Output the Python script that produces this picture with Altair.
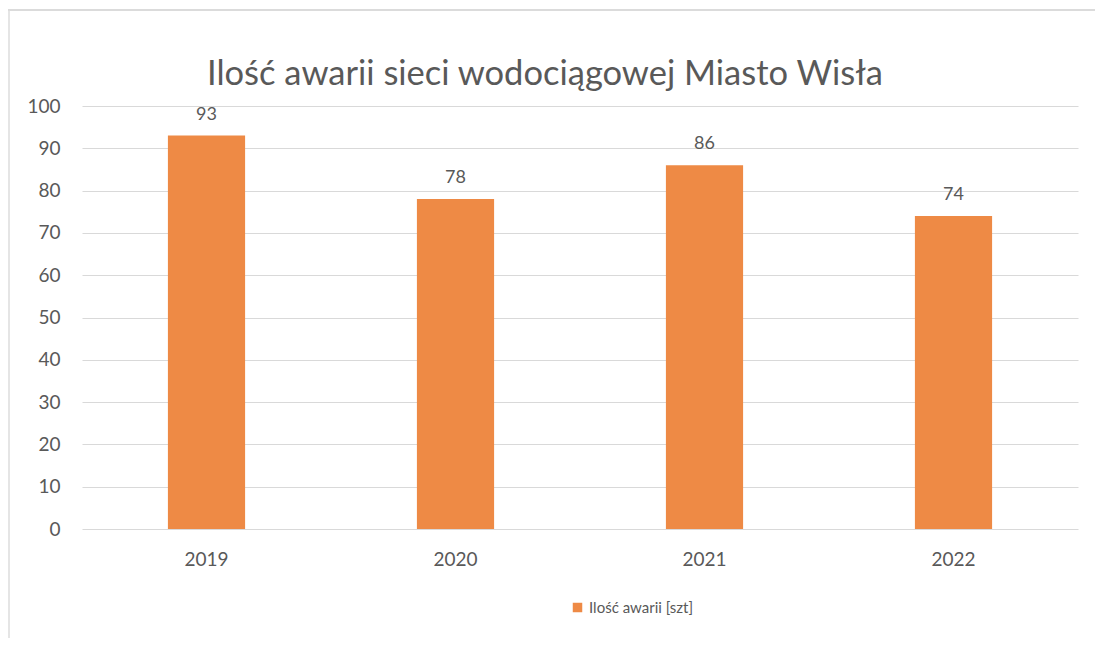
import altair as alt
import pandas as pd

years = ["2019", "2020", "2021", "2022"]
values = [93, 78, 86, 74]
series = "Ilość awarii [szt]"
title = "Ilość awarii sieci wodociągowej Miasto Wisła"

df = pd.DataFrame({"rok": years, "wartosc": values, "seria": [series] * 4})

FONT = "Lato"
GREY = "#595959"
ORANGE = "#EE8A45"

base = alt.Chart(df)

bars = base.mark_bar(color=ORANGE).encode(
    x=alt.X("rok:N", sort=years,
            scale=alt.Scale(paddingInner=0.69, paddingOuter=0.345),
            axis=alt.Axis(title=None, labelAngle=0, labelFontSize=19, labelColor=GREY,
                          labelFont=FONT, ticks=False, domain=False, grid=False,
                          labelPadding=21)),
    y=alt.Y("wartosc:Q", scale=alt.Scale(domain=[0, 100]),
            axis=alt.Axis(title=None, values=list(range(0, 101, 10)), labelFontSize=19,
                          labelColor=GREY, labelFont=FONT, ticks=False, domain=False,
                          labelPadding=22, gridColor="#d9d9d9", gridWidth=1)),
    color=alt.Color("seria:N", scale=alt.Scale(range=[ORANGE]),
                    legend=alt.Legend(title=None, orient="none", legendX=488, legendY=494,
                                      symbolType="square", symbolSize=90,
                                      labelFontSize=15, labelColor=GREY, labelFont=FONT,
                                      symbolStrokeWidth=0)),
)

labels = base.mark_text(dy=-21, fontSize=18, color=GREY, font=FONT).encode(
    x=alt.X("rok:N", sort=years),
    y="wartosc:Q",
    text="wartosc:Q",
)

one = pd.DataFrame({"t": [title]})
title_mark = alt.Chart(one).mark_text(fontSize=34.5, font=FONT, color=GREY, align="center",
                                      baseline="alphabetic").encode(
    x=alt.value(463), y=alt.value(-21), text="t:N"
)

frame_top = alt.Chart(pd.DataFrame({"a": [0]})).mark_rule(color="#cfcfcf", strokeWidth=1.5).encode(
    x=alt.value(-74), x2=alt.value(1090), y=alt.value(-96)
)
frame_left = alt.Chart(pd.DataFrame({"a": [0]})).mark_rule(color="#dddddd", strokeWidth=1.5).encode(
    x=alt.value(-73), y=alt.value(-96), y2=alt.value(540)
)

chart = alt.layer(bars, labels, title_mark, frame_top, frame_left).properties(
    width=996, height=423,
    background="white",
    autosize=alt.AutoSizeParams(type="none"),
    padding={"left": 74, "top": 98, "right": 17, "bottom": 109},
).configure_view(strokeWidth=0, stroke="transparent").configure_axis(domain=False)

chart.save("out.html", embed_options={"renderer": "svg", "actions": False})
